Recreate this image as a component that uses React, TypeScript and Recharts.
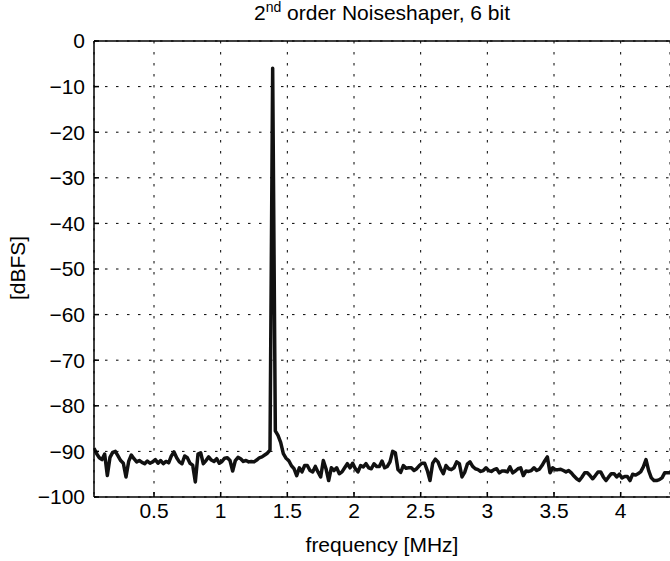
import { LineChart, Line, XAxis, YAxis, CartesianGrid } from 'recharts';

// spectrum sampled every 20 kHz starting at 50 kHz
const F_START = 0.05;
const F_STEP = 0.02;

// noise floor below the tone (0.05 .. 1.37 MHz)
const dbLow = [
  -89.3, -90.5, -91.4, -91.8, -90.6, -95.3, -91.3, -90.2, -90.0, -91.0,
  -92.0, -92.6, -95.6, -92.2, -90.8, -91.6, -92.3, -92.0, -92.4, -92.7,
  -92.1, -92.6, -92.3, -91.8, -92.6, -92.0, -92.7, -92.2, -92.5, -91.0,
  -90.1, -91.4, -92.3, -92.7, -91.0, -91.4, -92.6, -93.0, -96.7, -90.6,
  -90.3, -92.7, -92.0, -91.2, -91.9, -92.2, -91.6, -92.6, -92.2, -91.5,
  -91.4, -92.0, -94.3, -92.0, -91.3, -91.6, -92.2, -92.0, -92.3, -92.2,
  -92.3, -91.9, -91.4, -91.2, -90.8, -90.4, -89.7,
];

// the tone at 1.39 MHz and its skirt
const dbTone = [-6.0, -85.5, -86.5, -88.0];

// noise floor above the tone (1.47 .. 4.37 MHz)
const dbHigh = [
  -90.5, -91.5, -92.0, -93.1, -93.8, -95.3, -93.6, -94.5, -93.1, -93.1,
  -94.2, -94.5, -93.3, -94.5, -95.6, -92.0, -93.8, -96.4, -93.6, -94.2,
  -93.6, -94.9, -94.5, -93.6, -92.7, -93.6, -92.6, -93.8, -94.5, -93.1,
  -93.4, -92.7, -93.6, -93.8, -92.7, -93.3, -93.3, -92.1, -93.6, -93.3,
  -92.3, -90.0, -90.3, -94.0, -94.6, -93.1, -93.7, -93.6, -93.6, -94.2,
  -93.8, -93.1, -92.6, -92.6, -94.2, -96.4, -92.6, -91.7, -92.3, -93.8,
  -94.9, -93.1, -93.8, -94.0, -93.6, -92.3, -92.7, -95.6, -94.6, -92.8,
  -92.3, -93.3, -93.8, -94.0, -94.4, -94.2, -93.6, -94.2, -94.4, -94.0,
  -93.8, -94.7, -94.3, -94.3, -94.5, -93.4, -94.7, -94.3, -93.8, -93.6,
  -95.3, -94.3, -94.4, -94.2, -93.6, -94.2, -93.9, -93.1, -92.1, -91.2,
  -94.7, -93.6, -94.0, -94.0, -93.9, -94.2, -94.5, -94.2, -94.7, -95.4,
  -96.0, -96.4, -95.6, -94.7, -94.7, -95.3, -96.0, -95.3, -94.5, -94.5,
  -95.6, -96.4, -95.6, -94.9, -94.9, -95.6, -95.0, -95.8, -95.5, -95.5,
  -96.4, -95.0, -95.2, -94.9, -94.5, -93.4, -91.8, -94.2, -95.8, -96.4,
  -96.4, -96.2, -95.8, -94.7, -94.7, -94.7,
];

const xTicks = [0.5, 1, 1.5, 2, 2.5, 3, 3.5, 4];
const yTicks = [-100, -90, -80, -70, -60, -50, -40, -30, -20, -10, 0];

const data = [...dbLow, ...dbTone, ...dbHigh].map((db, i) => ({
  f: +(F_START + i * F_STEP).toFixed(3),
  db,
}));

const FONT = '"Liberation Sans", Arial, Helvetica, sans-serif';
const tickStyle = { fontSize: 21, fill: '#000', fontFamily: FONT };

const fmtDb = (v: number) => (v < 0 ? '\u2212' + Math.abs(v) : String(v));

export default function App() {
  return (
    <div style={{ position: 'absolute', left: 0, top: 0, width: 670, height: 561, background: '#fff', fontFamily: FONT }}>
      <div
        style={{
          position: 'absolute', top: 1, left: 94, width: 576, textAlign: 'center',
          fontSize: 21, lineHeight: '24px', color: '#000', whiteSpace: 'nowrap',
        }}
      >
        2<sup style={{ fontSize: 14, lineHeight: 0, verticalAlign: '0.55em' }}>nd</sup> order Noiseshaper, 6 bit
      </div>
      <div
        style={{
          position: 'absolute', left: 18, top: 268, fontSize: 21, color: '#000',
          transform: 'translate(-50%, -50%) rotate(-90deg)', whiteSpace: 'nowrap',
        }}
      >
        [dBFS]
      </div>
      <LineChart width={670} height={561} data={data} margin={{ top: 40, right: 0, bottom: 0, left: 0 }}>
        <CartesianGrid stroke="#000" strokeWidth={1} strokeDasharray="2.5 8.5" />
        <XAxis
          dataKey="f"
          type="number"
          domain={[0.05, 4.37]}
          ticks={xTicks}
          allowDataOverflow
          height={64}
          tick={tickStyle}
          tickSize={-5}
          tickMargin={11}
          stroke="#000"
          strokeWidth={1.5}
          label={{ value: 'frequency [MHz]', position: 'insideBottom', offset: 9, fontSize: 21, fill: '#000', fontFamily: FONT }}
        />
        <XAxis
          xAxisId="top"
          orientation="top"
          dataKey="f"
          type="number"
          domain={[0.05, 4.37]}
          ticks={xTicks}
          allowDataOverflow
          height={1}
          tick={false}
          tickSize={-5}
          stroke="#000"
          strokeWidth={1.5}
        />
        <YAxis
          type="number"
          domain={[-100, 0]}
          ticks={yTicks}
          width={94}
          tick={tickStyle}
          tickFormatter={fmtDb}
          tickSize={-5}
          tickMargin={14}
          stroke="#000"
          strokeWidth={1.5}
        />
        <Line
          type="linear"
          dataKey="db"
          stroke="#111"
          strokeWidth={3.5}
          strokeLinejoin="round"
          dot={false}
          isAnimationActive={false}
        />
      </LineChart>
    </div>
  );
}
